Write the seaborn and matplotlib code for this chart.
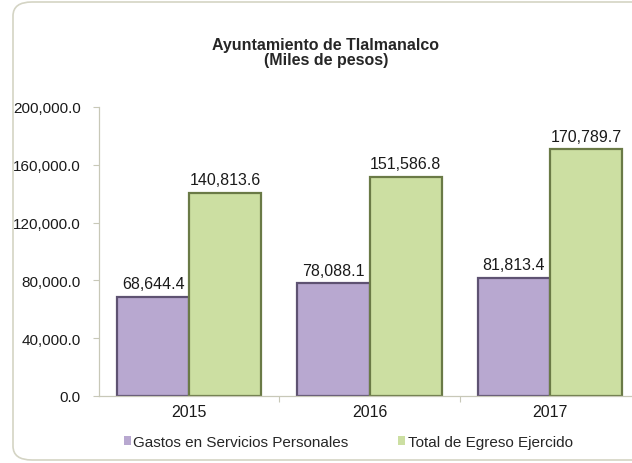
import pandas as pd
import seaborn as sns
import matplotlib.pyplot as plt
from matplotlib.patches import FancyBboxPatch
from matplotlib.ticker import FuncFormatter, FixedLocator

# Data
years = ["2015", "2016", "2017"]
gastos = [68644.4, 78088.1, 81813.4]
total = [140813.6, 151586.8, 170789.7]
series_names = ["Gastos en Servicios Personales", "Total de Egreso Ejercido"]

data = pd.DataFrame({
    "Año": years * 2,
    "Valor": gastos + total,
    "Serie": [series_names[0]] * 3 + [series_names[1]] * 3,
})

sns.set_style("white")
plt.rcParams['font.family'] = ['Liberation Sans', 'DejaVu Sans']

fig = plt.figure(figsize=(6.32, 4.64), dpi=100)
# rounded chart border (right side is cut off in the original)
border = FancyBboxPatch((13 / 632, 3 / 464), 640 / 632, 458 / 464,
                        boxstyle="round,pad=0,rounding_size=0.03",
                        transform=fig.transFigure, fill=False,
                        edgecolor="#D4D4C4", linewidth=1.2)
fig.patches.append(border)

ax = fig.add_axes([99 / 632, 67 / 464, 541 / 632, 289 / 464])
palette = {series_names[0]: "#B8A8D0", series_names[1]: "#CCDFA2"}
sns.barplot(data=data, x="Año", y="Valor", hue="Serie", palette=palette,
            width=0.8, saturation=1, ax=ax, edgecolor=None, linewidth=0)

edge_colors = ["#5E5272", "#6A7A46"]
for cont, ec in zip(ax.containers, edge_colors):
    for bar in cont:
        bar.set_edgecolor(ec)
        bar.set_linewidth(1.6)
    ax.bar_label(cont, labels=[f"{v:,.1f}" for v in cont.datavalues],
                 padding=4, fontsize=11.5, color="#1a1a1a")

ax.set_ylim(0, 200000)
ax.set_xlim(-0.5, 2.5)
ax.set_yticks([0, 40000, 80000, 120000, 160000, 200000])
ax.yaxis.set_major_formatter(FuncFormatter(lambda v, p: f"{v:,.1f}"))
ax.tick_params(axis="y", labelsize=11, length=4, width=0.8, color="#C8C8B8",
               pad=9, left=True, labelcolor="#1a1a1a")
ax.tick_params(axis="x", which="major", labelsize=11.5, length=0, pad=6,
               labelcolor="#1a1a1a")
ax.xaxis.set_minor_locator(FixedLocator([0.5, 1.5]))
ax.tick_params(axis="x", which="minor", length=4, width=0.8, color="#C8C8B8",
               bottom=True)
ax.set_xlabel("")
ax.set_ylabel("")
for side in ["top", "right"]:
    ax.spines[side].set_visible(False)
for side in ["left", "bottom"]:
    ax.spines[side].set_color("#C8C8B8")
    ax.spines[side].set_linewidth(0.9)

fig.text(326 / 632, 1 - 53 / 464, "Ayuntamiento de Tlalmanalco\n(Miles de pesos)",
         ha="center", va="center", fontsize=11.5, fontweight="bold",
         linespacing=1.05)

handles, labels = ax.get_legend_handles_labels()
ax.legend(handles, labels, loc="center", bbox_to_anchor=(348 / 632, 1 - 443 / 464),
          bbox_transform=fig.transFigure, ncol=2, frameon=False,
          fontsize=11, handlelength=0.5, handleheight=0.5, handletextpad=0.15,
          columnspacing=3.2)

fig.savefig("out.png", dpi=100)
